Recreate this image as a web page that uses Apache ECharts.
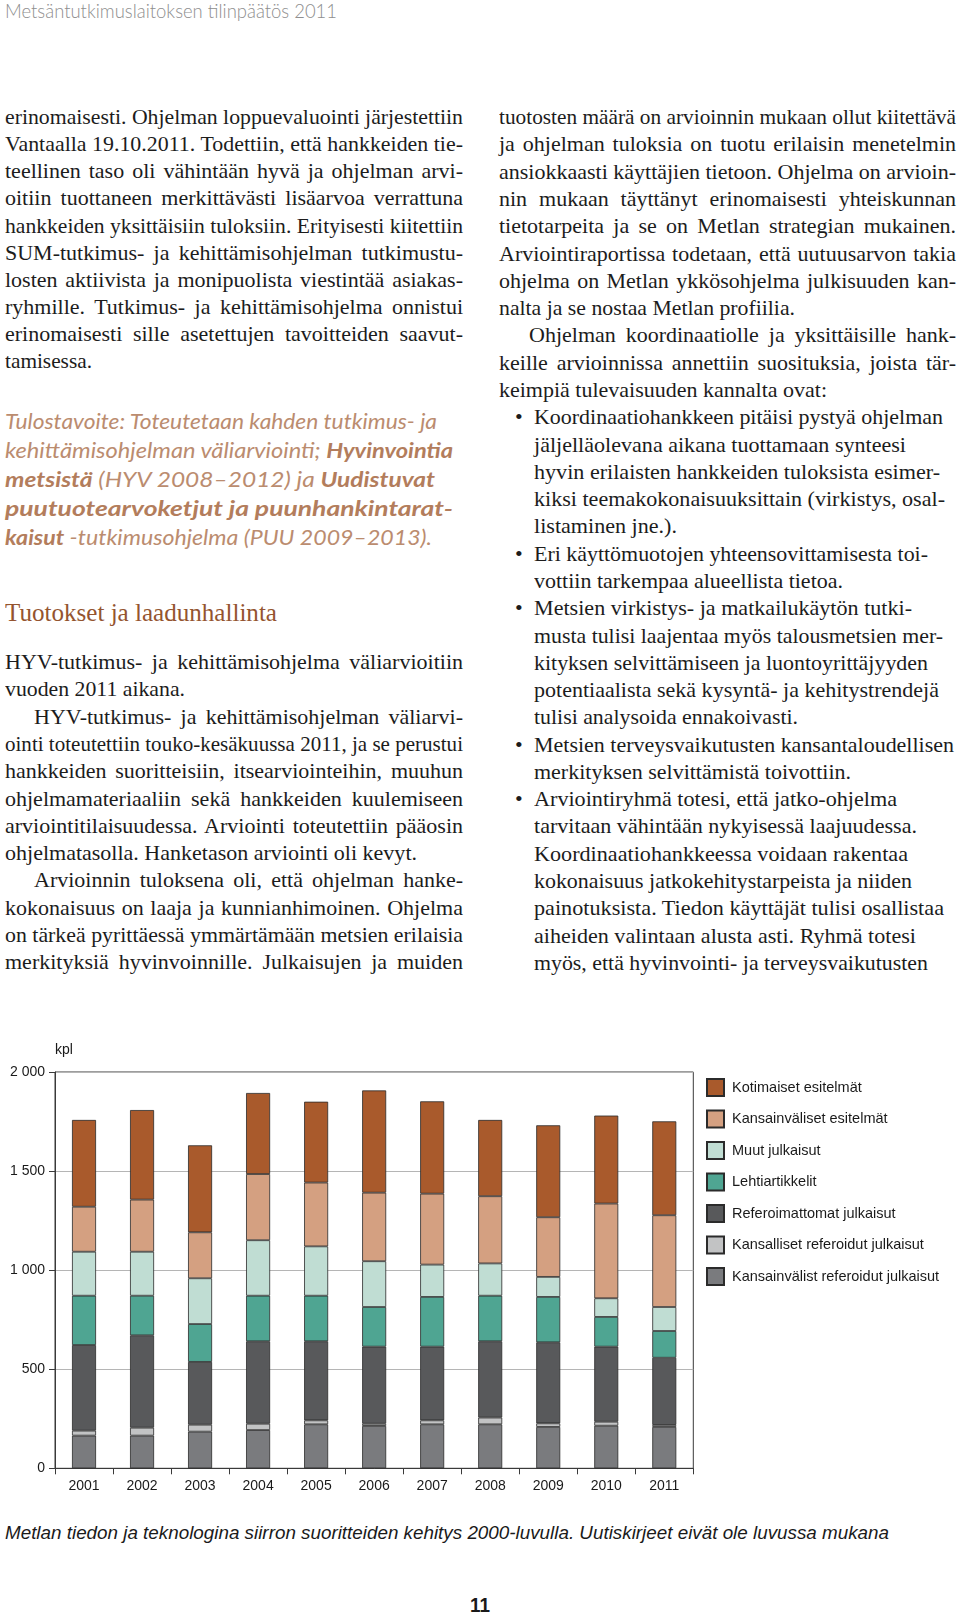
<!DOCTYPE html>
<html><head><meta charset="utf-8">
<script src="https://cdn.jsdelivr.net/npm/echarts@6/dist/echarts.min.js"></script>
<style>
html,body{margin:0;padding:0;background:#fff;}
#page{position:relative;width:960px;height:1617px;overflow:hidden;background:#fff;}
.ln{position:absolute;white-space:nowrap;transform-origin:0 50%;}
.body{font-family:'Liberation Serif','Times New Roman',serif;font-size:22px;line-height:27px;height:27px;color:#1c1c1c;}
.goal{font-family:Lato,'Open Sans',sans-serif;font-style:italic;font-size:21px;line-height:29px;height:29px;color:#bb8c6f;}
.goal b{font-weight:700;color:#b37d5c;}
.head{font-family:'Liberation Serif','Times New Roman',serif;font-size:25px;line-height:30px;height:30px;color:#94542f;}
.top{font-family:Lato,'Open Sans',sans-serif;font-weight:300;font-size:19px;line-height:22px;height:22px;color:#8e8e8e;}
.cap{font-family:'Liberation Sans Narrow','Liberation Sans',Arial,sans-serif;font-style:italic;font-size:18px;line-height:22px;height:22px;color:#1a1a1a;}
.pg{font-family:'Liberation Sans Narrow','Liberation Sans',Arial,sans-serif;font-weight:bold;font-size:20px;line-height:24px;height:24px;color:#1a1a1a;}
#chart{position:absolute;left:0;top:1000px;width:960px;height:520px;}
</style></head><body><div id="page"><div id="chart"></div></div>
<script>
// ---------- chart data ----------
const years = ['2001','2002','2003','2004','2005','2006','2007','2008','2009','2010','2011'];
const yTickLabels = {0:'0',500:'500',1000:'1 000',1500:'1 500',2000:'2 000'};
const kansainvalistRef = [165,165,185,193,222,214,222,222,209,215,209];
const kansallisetRef   = [25,40,35,32,20,11,20,34,18,20,10];
const referoimattomat  = [432,466,317,416,399,389,372,385,409,379,339];
const lehtiartikkelit  = [249,200,191,230,230,200,251,230,229,150,135];
const muutJulkaisut    = [222,222,231,280,249,231,163,163,101,94,121];
const kvEsitelmat      = [227,263,232,334,322,346,358,339,301,478,463];
const kotimEsitelmat   = [438,452,439,409,408,516,466,385,464,444,474];
const seriesNames = ['Kansainvälist referoidut julkaisut','Kansalliset referoidut julkaisut','Referoimattomat julkaisut','Lehtiartikkelit','Muut julkaisut','Kansainväliset esitelmät','Kotimaiset esitelmät'];
const seriesData = [kansainvalistRef,kansallisetRef,referoimattomat,lehtiartikkelit,muutJulkaisut,kvEsitelmat,kotimEsitelmat];
const seriesColors = ['#7a7b7e','#c2c3c4','#58595b','#4fa592','#c0ddd3','#d4a081','#a95a2c'];

// ---------- page text ----------
const pageTitle = 'Metsäntutkimuslaitoksen tilinpäätös 2011';
const leftBlock1 = [
 ['erinomaisesti. Ohjelman loppuevaluointi järjestettiin','j'],
 ['Vantaalla 19.10.2011. Todettiin, että hankkeiden tie-','j'],
 ['teellinen taso oli vähintään hyvä ja ohjelman arvi-','j'],
 ['oitiin tuottaneen merkittävästi lisäarvoa verrattuna','j'],
 ['hankkeiden yksittäisiin tuloksiin. Erityisesti kiitettiin','j'],
 ['SUM-tutkimus- ja kehittämisohjelman tutkimustu-','j'],
 ['losten aktiivista ja monipuolista viestintää asiakas-','j'],
 ['ryhmille. Tutkimus- ja kehittämisohjelma onnistui','j'],
 ['erinomaisesti sille asetettujen tavoitteiden saavut-','j'],
 ['tamisessa.',92]
];
const goalLines = [
 ['Tulostavoite: Toteutetaan kahden tutkimus- ja',437],
 ['kehittämisohjelman väliarviointi; <b>Hyvinvointia</b>',453],
 ['<b>metsistä</b> (HYV 2008–2012) ja <b>Uudistuvat</b>',435],
 ['<b>puutuotearvoketjut ja puunhankintarat-</b>',453],
 ['<b>kaisut</b> -tutkimusohjelma (PUU 2009–2013).',432]
];
const headingText = 'Tuotokset ja laadunhallinta';
const leftBlock2 = [
 ['HYV-tutkimus- ja kehittämisohjelma väliarvioitiin','j',5],
 ['vuoden 2011 aikana.',185,5],
 ['HYV-tutkimus- ja kehittämisohjelman väliarvi-','j',34],
 ['ointi toteutettiin touko-kesäkuussa 2011, ja se perustui','j',5],
 ['hankkeiden suoritteisiin, itsearviointeihin, muuhun','j',5],
 ['ohjelmamateriaaliin sekä hankkeiden kuulemiseen','j',5],
 ['arviointitilaisuudessa. Arviointi toteutettiin pääosin','j',5],
 ['ohjelmatasolla. Hanketason arviointi oli kevyt.',417,5],
 ['Arvioinnin tuloksena oli, että ohjelman hanke-','j',34],
 ['kokonaisuus on laaja ja kunnianhimoinen. Ohjelma','j',5],
 ['on tärkeä pyrittäessä ymmärtämään metsien erilaisia','j',5],
 ['merkityksiä hyvinvoinnille. Julkaisujen ja muiden','j',5]
];
const rightLines = [
 ['tuotosten määrä on arvioinnin mukaan ollut kiitettävä','j',499],
 ['ja ohjelman tuloksia on tuotu erilaisin menetelmin','j',499],
 ['ansiokkaasti käyttäjien tietoon. Ohjelma on arvioin-','j',499],
 ['nin mukaan täyttänyt erinomaisesti yhteiskunnan','j',499],
 ['tietotarpeita ja se on Metlan strategian mukainen.','j',499],
 ['Arviointiraportissa todetaan, että uutuusarvon takia','j',499],
 ['ohjelma on Metlan ykkösohjelma julkisuuden kan-','j',499],
 ['nalta ja se nostaa Metlan profiilia.',795,499],
 ['Ohjelman koordinaatiolle ja yksittäisille hank-','j',529],
 ['keille arvioinnissa annettiin suosituksia, joista tär-','j',499],
 ['keimpiä tulevaisuuden kannalta ovat:',827,499],
 ['Koordinaatiohankkeen pitäisi pystyä ohjelman',943,534,1],
 ['jäljelläolevana aikana tuottamaan synteesi',906,534],
 ['hyvin erilaisten hankkeiden tuloksista esimer-',940,534],
 ['kiksi teemakokonaisuuksittain (virkistys, osal-',945,534],
 ['listaminen jne.).',677,534],
 ['Eri käyttömuotojen yhteensovittamisesta toi-',928,534,1],
 ['vottiin tarkempaa alueellista tietoa.',843,534],
 ['Metsien virkistys- ja matkailukäytön tutki-',912,534,1],
 ['musta tulisi laajentaa myös talousmetsien mer-',943,534],
 ['kityksen selvittämiseen ja luontoyrittäjyyden',928,534],
 ['potentiaalista sekä kysyntä- ja kehitystrendejä',939,534],
 ['tulisi analysoida ennakoivasti.',798,534],
 ['Metsien terveysvaikutusten kansantaloudellisen',954,534,1],
 ['merkityksen selvittämistä toivottiin.',851,534],
 ['Arviointiryhmä totesi, että jatko-ohjelma',897,534,1],
 ['tarvitaan vähintään nykyisessä laajuudessa.',917,534],
 ['Koordinaatiohankkeessa voidaan rakentaa',908,534],
 ['kokonaisuus jatkokehitystarpeista ja niiden',912,534],
 ['painotuksista. Tiedon käyttäjät tulisi osallistaa',944,534],
 ['aiheiden valintaan alusta asti. Ryhmä totesi',916,534],
 ['myös, että hyvinvointi- ja terveysvaikutusten',928,534]
];
const captionText = 'Metlan tiedon ja teknologina siirron suoritteiden kehitys 2000-luvulla. Uutiskirjeet eivät ole luvussa mukana';
const pageNumber = '11';

const page = document.getElementById('page');
function addLine(html, cls, x, yc, endX, justify) {
  const el = document.createElement('div');
  el.className = 'ln ' + cls;
  el.innerHTML = html;
  page.appendChild(el);
  const h = el.offsetHeight;
  el.style.left = x + 'px';
  el.style.top = (yc - h / 2) + 'px';
  const w = el.getBoundingClientRect().width;
  const target = endX - x;
  if (justify) {
    const n = (el.textContent.trim().match(/ /g) || []).length;
    if (w < target && n > 0) { el.style.wordSpacing = ((target - w) / n) + 'px'; return el; }
  }
  if (w > 0) el.style.transform = 'scaleX(' + (target / w) + ')';
  return el;
}
addLine(pageTitle, 'top', 5, 11, 337, false);
leftBlock1.forEach((l, i) => addLine(l[0], 'body', 5, 116.5 + 27.15 * i, l[1] === 'j' ? 463 : l[1], l[1] === 'j'));
goalLines.forEach((l, i) => addLine(l[0], 'goal', 5, 420 + 29.1 * i, l[1], false));
addLine(headingText, 'head', 5, 613, 277, false);
leftBlock2.forEach((l, i) => addLine(l[0], 'body', l[2], 661.5 + 27.3 * i, l[1] === 'j' ? 463 : l[1], l[1] === 'j'));
rightLines.forEach((l, i) => {
  const yc = 116.7 + 27.28 * i;
  addLine(l[0], 'body', l[2], yc, l[1] === 'j' ? 956 : l[1], l[1] === 'j');
  if (l[3]) { const b = document.createElement('div'); b.className = 'ln body'; b.textContent = '•'; page.appendChild(b); b.style.left = '515px'; b.style.top = (yc - 13.5) + 'px'; }
});
addLine(captionText, 'cap', 5, 1533, 889, false);
addLine(pageNumber, 'pg', 470, 1605, 490, false);

// ---------- chart ----------
const chart = echarts.init(document.getElementById('chart'), null, {renderer: 'canvas'});
const series = seriesNames.map((name, i) => ({
  name, type: 'bar', stack: 'total', data: seriesData[i], barWidth: 24,
  itemStyle: {color: seriesColors[i], borderColor: '#2b2b2b', borderWidth: 0.8},
  emphasis: {disabled: true}
}));
chart.setOption({
  animation: false,
  textStyle: {fontFamily: "'Liberation Sans', Arial, sans-serif"},
  grid: {left: 55, top: 72, width: 638.3, height: 396.3, show: true, borderColor: '#3a3a3a', borderWidth: 1, backgroundColor: 'transparent'},
  legend: {
    orient: 'vertical', left: 701, top: 73, padding: 5, itemWidth: 17, itemHeight: 17, itemGap: 12.5,
    icon: 'rect', selectedMode: false,
    data: seriesNames.slice().reverse(),
    textStyle: {fontSize: 14.5, color: '#1a1a1a', fontFamily: "'Liberation Sans', Arial, sans-serif", padding: [0, 0, 0, 3]}
  },
  xAxis: {
    type: 'category', data: years,
    axisLine: {lineStyle: {color: '#3a3a3a', width: 1}},
    axisTick: {show: true, length: 6, lineStyle: {color: '#3a3a3a'}},
    axisLabel: {fontSize: 14, color: '#1a1a1a', margin: 11}
  },
  yAxis: {
    type: 'value', min: 0, max: 2000, interval: 500,
    name: 'kpl', nameLocation: 'end', nameGap: 22,
    nameTextStyle: {align: 'left', fontSize: 14, color: '#1a1a1a', verticalAlign: 'middle'},
    axisLine: {show: true, lineStyle: {color: '#3a3a3a', width: 1}},
    axisTick: {show: true, length: 6, lineStyle: {color: '#3a3a3a'}},
    axisLabel: {fontSize: 14, color: '#1a1a1a', margin: 10, formatter: v => yTickLabels[v] !== undefined ? yTickLabels[v] : String(v)},
    splitLine: {show: true, lineStyle: {color: '#b5b5b5', width: 1}}
  },
  series
});
</script></body></html>
